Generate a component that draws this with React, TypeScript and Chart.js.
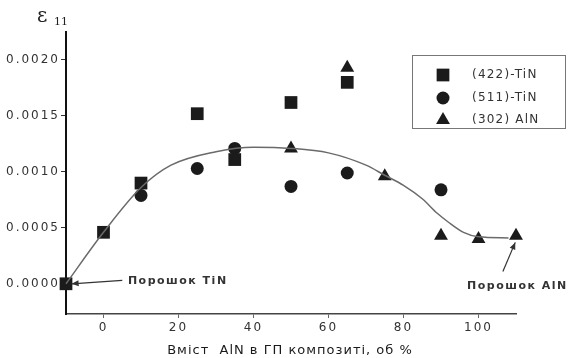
import React, { useEffect, useRef } from 'react';
import { Chart, registerables } from 'chart.js';

Chart.register(...registerables);

// ---- data ----
const xTickValues = [0, 20, 40, 60, 80, 100];
const yTickValues = [0, 0.0005, 0.001, 0.0015, 0.002];

const label422 = '(422)-TiN';
const label511 = '(511)-TiN';
const label302 = '(302) AlN';

const tin422X = [-10, 0, 10, 25, 35, 50, 65];
const tin422Y = [0, 0.00046, 0.0009, 0.00152, 0.00111, 0.00162, 0.0018];

const tin511X = [10, 25, 35, 50, 65, 90];
const tin511Y = [0.00079, 0.00103, 0.00121, 0.00087, 0.00099, 0.00084];

const aln302X = [50, 65, 75, 90, 100, 110];
const aln302Y = [0.00121, 0.00193, 0.00096, 0.00043, 0.0004, 0.00043];

const fitX = [-10, 0, 10, 18, 30, 40, 50, 60, 70, 75, 80, 85, 89, 92, 96, 100, 108];
const fitY = [0, 0.00046, 0.00086, 0.00106, 0.00118, 0.00122, 0.00121, 0.00117, 0.00106, 0.00097, 0.00088, 0.00076, 0.00063, 0.00055, 0.00046, 0.00042, 0.00041];

const yTitleMain = 'ε';
const yTitleSub = '11';
const xTitle = 'Вміст  AlN в ГП композиті, об %';
const noteTiN = 'Порошок TiN';
const noteAlN = 'Порошок AlN';

const pts = (xs: number[], ys: number[]) => xs.map((x, i) => ({ x, y: ys[i] }));

const MARK = '#1b1b1b';

function arrow(ctx: CanvasRenderingContext2D, x1: number, y1: number, x2: number, y2: number) {
  ctx.beginPath();
  ctx.moveTo(x1, y1);
  ctx.lineTo(x2, y2);
  ctx.stroke();
  const a = Math.atan2(y2 - y1, x2 - x1);
  const L = 7, W = 3;
  ctx.beginPath();
  ctx.moveTo(x2, y2);
  ctx.lineTo(x2 - L * Math.cos(a) + W * Math.sin(a), y2 - L * Math.sin(a) - W * Math.cos(a));
  ctx.lineTo(x2 - L * Math.cos(a) - W * Math.sin(a), y2 - L * Math.sin(a) + W * Math.cos(a));
  ctx.closePath();
  ctx.fill();
}

function drawMarker(ctx: CanvasRenderingContext2D, style: string, x: number, y: number, r: number) {
  ctx.beginPath();
  if (style === 'rect') {
    const s = Math.SQRT1_2 * r;
    ctx.rect(x - s, y - s, 2 * s, 2 * s);
  } else if (style === 'circle') {
    ctx.arc(x, y, r, 0, Math.PI * 2);
  } else {
    ctx.moveTo(x, y - r);
    ctx.lineTo(x + Math.sin(2 * Math.PI / 3) * r, y - Math.cos(2 * Math.PI / 3) * r);
    ctx.lineTo(x + Math.sin(4 * Math.PI / 3) * r, y - Math.cos(4 * Math.PI / 3) * r);
    ctx.closePath();
  }
  ctx.fill();
}

const decorPlugin = {
  id: 'decor',
  beforeDraw(chart: any) {
    chart.ctx.letterSpacing = '2px';
  },
  afterDraw(chart: any) {
    const ctx: CanvasRenderingContext2D = chart.ctx;
    const xs = chart.scales.x;
    const ys = chart.scales.y;
    ctx.save();
    // y title
    ctx.letterSpacing = '0px';
    ctx.fillStyle = '#222';
    ctx.textBaseline = 'alphabetic';
    ctx.textAlign = 'left';
    ctx.font = '20px "DejaVu Serif"';
    ctx.fillText(yTitleMain, 37, 22);
    ctx.font = '11px "DejaVu Serif"';
    ctx.fillText(yTitleSub, 54, 25);

    // x title
    ctx.letterSpacing = '1px';
    ctx.font = '13px "DejaVu Sans"';
    ctx.textAlign = 'center';
    ctx.fillStyle = '#1a1a1a';
    ctx.fillText(xTitle, 290, 354);

    // annotations
    ctx.font = 'bold 11px "DejaVu Sans"';
    ctx.letterSpacing = '1.5px';
    ctx.fillStyle = '#333';
    ctx.textAlign = 'left';
    ctx.textBaseline = 'middle';
    ctx.fillText(noteTiN, xs.getPixelForValue(6.5), ys.getPixelForValue(0.00002));
    ctx.fillText(noteAlN, 467, ys.getPixelForValue(-0.00002));
    ctx.strokeStyle = '#333';
    ctx.lineWidth = 1.2;
    arrow(ctx, xs.getPixelForValue(5), ys.getPixelForValue(0.00003), xs.getPixelForValue(-8.5), ys.getPixelForValue(0));
    arrow(ctx, xs.getPixelForValue(106.5), ys.getPixelForValue(0.00011), xs.getPixelForValue(109.8), ys.getPixelForValue(0.00037));

    // legend
    const lx = 412, ly = 55, lw = 153, lh = 73;
    ctx.strokeStyle = '#777';
    ctx.lineWidth = 1;
    ctx.strokeRect(lx + 0.5, ly + 0.5, lw, lh);
    const rows = [
      { label: label422, style: 'rect', r: 9, y: 75 },
      { label: label511, style: 'circle', r: 6.5, y: 98 },
      { label: label302, style: 'triangle', r: 8, y: 120 },
    ];
    ctx.font = '12px "DejaVu Sans"';
    ctx.letterSpacing = '1.2px';
    for (const row of rows) {
      ctx.fillStyle = MARK;
      drawMarker(ctx, row.style, 443, row.y, row.r);
      ctx.fillStyle = '#333';
      ctx.textBaseline = 'middle';
      ctx.fillText(row.label, 472, row.y);
    }
    ctx.restore();
  },
};

export default function App() {
  const ref = useRef<HTMLCanvasElement>(null);
  useEffect(() => {
    if (!ref.current) return;
    const chart = new Chart(ref.current, {
      type: 'scatter',
      data: {
        datasets: [
          {
            type: 'line',
            label: 'fit',
            data: pts(fitX, fitY),
            borderColor: '#6a6a6a',
            borderWidth: 1.5,
            pointRadius: 0,
            tension: 0.4,
            cubicInterpolationMode: 'monotone',
            fill: false,
            clip: false,
          } as any,
          {
            label: label422,
            data: pts(tin422X, tin422Y),
            pointStyle: 'rect',
            pointRadius: 9,
            backgroundColor: MARK,
            borderColor: MARK,
            borderWidth: 0,
            clip: false,
          } as any,
          {
            label: label511,
            data: pts(tin511X, tin511Y),
            pointStyle: 'circle',
            pointRadius: 6.5,
            backgroundColor: MARK,
            borderColor: MARK,
            borderWidth: 0,
            clip: false,
          } as any,
          {
            label: label302,
            data: pts(aln302X, aln302Y),
            pointStyle: 'triangle',
            pointRadius: 8,
            backgroundColor: MARK,
            borderColor: MARK,
            borderWidth: 0,
            clip: false,
          } as any,
        ],
      },
      options: {
        responsive: false,
        animation: false,
        layout: { padding: { top: 32, right: 54, left: 0, bottom: 0 } },
        plugins: { legend: { display: false }, tooltip: { enabled: false }, title: { display: false } },
        scales: {
          x: {
            type: 'linear',
            min: -10,
            max: 110,
            afterFit: (s: any) => { s.height = 44; },
            afterBuildTicks: (s: any) => { s.ticks = xTickValues.map((v) => ({ value: v })); },
            border: { color: '#444', width: 1.5 },
            grid: { drawOnChartArea: false, drawTicks: true, tickLength: 4, color: '#666' },
            ticks: { color: '#333', font: { family: 'DejaVu Sans', size: 12 }, padding: 3 },
          },
          y: {
            type: 'linear',
            min: -0.00027,
            max: 0.00225,
            afterFit: (s: any) => { s.width = 66; },
            afterBuildTicks: (s: any) => { s.ticks = yTickValues.map((v) => ({ value: v })); },
            border: { color: '#111', width: 2 },
            grid: { drawOnChartArea: false, drawTicks: true, tickLength: 5, color: '#333' },
            ticks: {
              color: '#333',
              font: { family: 'DejaVu Sans', size: 12 },
              padding: 1,
              callback: (v: any) => Number(v).toFixed(4),
            },
          },
        },
      } as any,
      plugins: [decorPlugin],
    });
    return () => chart.destroy();
  }, []);
  return (
    <div style={{ position: 'fixed', left: 0, top: 0, width: 570, height: 358, background: '#fff' }}>
      <canvas ref={ref} width={570} height={358} />
    </div>
  );
}
